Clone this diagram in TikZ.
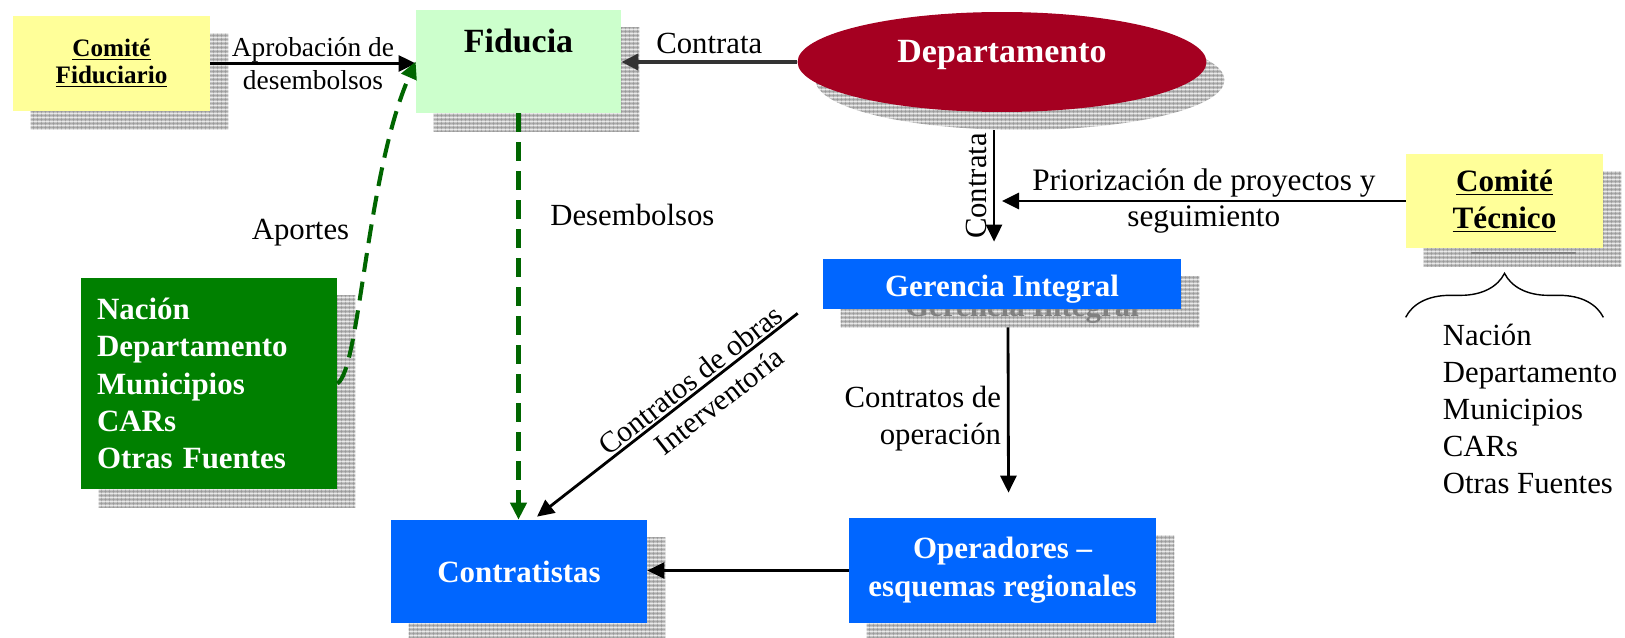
\documentclass[tikz,border=0pt]{standalone}
\usepackage{fontspec}
\setmainfont{Liberation Serif}
\usepackage{xcolor}
\usepackage{tikz}
\usetikzlibrary{positioning, shapes.geometric, arrows.meta, backgrounds, patterns.meta, decorations.pathreplacing}

\definecolor{paleyellow}{HTML}{FFFF99}
\definecolor{palegreen}{HTML}{CCFFCC}
\definecolor{winered}{HTML}{A50021}
\definecolor{boxblue}{HTML}{0066FF}
\definecolor{boxgreen}{HTML}{008000}
\definecolor{dashgreen}{HTML}{006600}
\definecolor{linegray}{HTML}{333333}
\definecolor{shadowfill}{HTML}{C4C4C4}
\definecolor{shadowline}{HTML}{959595}

\tikzdeclarepattern{
    name=shadowgrid,
    type=colored,
    bottom left={(0pt,0pt)},
    top right={(2.3pt,2.3pt)},
    tile size={(2.3pt,2.3pt)},
    code={
        \fill[shadowfill] (0pt,0pt) rectangle (2.3pt,2.3pt);
        \draw[shadowline, line width=0.35pt] (0pt,1.15pt) -- (2.3pt,1.15pt) (1.15pt,0pt) -- (1.15pt,2.3pt);
    }
}

\begin{document}
\begin{tikzpicture}[
            x=0.02cm, y=-0.02cm,
            flowtext/.style={text=black, font=\fontsize{17.5}{21}\selectfont},
            boxtext/.style={font=\bfseries\fontsize{17.6}{21}\selectfont},
            comite/.style={rectangle, fill=paleyellow, align=center, boxtext},
            bluebox/.style={rectangle, fill=boxblue, text=white, align=center, boxtext},
            arr/.style={-{Triangle[length=0.34cm, width=0.32cm]}, line width=1.6pt},
            money/.style={arr, dashgreen, line width=2.3pt, dash pattern=on 0.38cm off 0.2cm},
            brace/.style={decorate, decoration={brace, amplitude=0.88cm}, line width=0.8pt}
        ]
        \useasboundingbox (0,0) rectangle (1625,638);
        % Top row
        \node[comite, minimum width=3.94cm, minimum height=1.9cm, font=\bfseries\fontsize{14.3}{15.4}\selectfont]
            (cf) at (111.5,63.5) {\underline{Comité}\\\underline{Fiduciario}};
        \node[rectangle, fill=palegreen, minimum width=4.1cm, minimum height=2.06cm,
              text height=0.44cm, text depth=0.79cm, font=\bfseries\fontsize{19.3}{23}\selectfont]
            (fid) at (518.5,61.5) {Fiducia};
        \node[ellipse, fill=winered, text=white, minimum width=8.18cm, minimum height=2cm,
              text height=0.4cm, text depth=0.36cm, font=\bfseries\fontsize{19.3}{23}\selectfont]
            (dep) at (1002,62) {Departamento};
        % Right side: technical committee
        \node[comite, minimum width=3.94cm, minimum height=1.88cm, font=\bfseries\fontsize{17.7}{21}\selectfont]
            (ct) at (1504.5,201) {\underline{Comité}\\\underline{Técnico}};
        \node[flowtext, align=left] (members) at (1530,409)
            {Nación\\Departamento\\Municipios\\CARs\\Otras Fuentes};
        % Middle and bottom
        \node[bluebox, minimum width=7.16cm, minimum height=1cm, text height=0.52cm, text depth=0cm]
            (gi) at (1002,284) {Gerencia Integral};
        \node[rectangle, fill=boxgreen, text=white, minimum width=5.12cm, minimum height=4.22cm,
              text width=4.48cm, inner xsep=0.32cm, align=left, font=\bfseries\fontsize{17.6}{21.3}\selectfont]
            (src) at (209,383.5) {Nación\\Departamento\\Municipios\\CARs\\Otras Fuentes};
        \node[bluebox, minimum width=5.12cm, minimum height=2.06cm] (con) at (519,571.5) {Contratistas};
        \node[bluebox, minimum width=6.14cm, minimum height=2.1cm, font=\bfseries\fontsize{17.6}{21.6}\selectfont]
            (ops) at (1002.5,570.5) {Operadores –\\esquemas regionales};

        % Shadows
        \begin{scope}[on background layer]
            \foreach \nd in {cf,fid,ct,gi,src,con,ops}
                \path[pattern=shadowgrid] ([shift={(18,18)}]\nd.north west) rectangle ([shift={(18,18)}]\nd.south east);
            \path[pattern=shadowgrid] ([shift={(18,18)}]dep.center) ellipse [x radius=4.09cm, y radius=1cm];
            \node[boxtext, text=gray, text height=0.52cm, text depth=0cm] at ([shift={(20,20)}]gi.center) {Gerencia Integral};
            \draw[gray, line width=1.1pt] ([shift={(-34,5)}]ct.south) -- ([shift={(71,5)}]ct.south);
        \end{scope}

        \draw[brace] ([shift={(0,69)}]ct.south west) -- ([shift={(0,69)}]ct.south east);

        % Connectors
        \draw[arr] (cf.east) -- node[text=black, font=\fontsize{15.6}{18.7}\selectfont, align=center]
            {Aprobación de\\desembolsos} (cf.east -| fid.west);
        \draw[arr, linegray, line width=2.2pt] (dep.west) -- node[above, flowtext] {Contrata} (dep.west -| fid.east);
        \draw[arr] ([shift={(-8,18)}]dep.south) -- node[flowtext, rotate=90, anchor=south] {Contrata}
            ([shift={(-8,-17)}]gi.north);
        \draw[arr] (ct.west) -- node[text=black, font=\fontsize{17.8}{20.5}\selectfont, align=center]
            {Priorización de proyectos y\\seguimiento} (ct.west -| dep.south);
        \draw[money] (fid.south) -- node[pos=0.25, right=0.48cm, flowtext] {Desembolsos} (fid.south |- con.north);
        \draw[arr] ([shift={(-25,4)}]gi.south west) --
            node[pos=0.38, rotate=38, anchor=south, inner sep=1pt, flowtext, font=\fontsize{17}{20}\selectfont] {Contratos de obras}
            node[pos=0.35, rotate=38, anchor=north, inner sep=5pt, flowtext, font=\fontsize{17}{20}\selectfont] {Interventoría}
            ([shift={(18,-3)}]con.north);
        \draw[arr] ([shift={(6,18)}]gi.south) -- node[left, flowtext, align=right, yshift=-0.18cm]
            {Contratos de\\operación} ([shift={(6,-25)}]ops.north);
        \draw[arr, line width=1.3pt] (ops.west) -- (ops.west -| con.east);
        \draw[money] (src.east) .. controls (360,370) and (366,175) .. (fid.west)
            node[pos=0.57, left=0.28cm, flowtext] {Aportes};
    \end{tikzpicture}
\end{document}
